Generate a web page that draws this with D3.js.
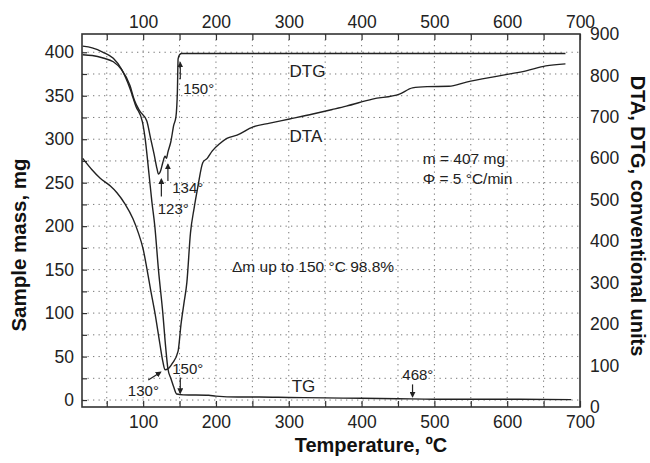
<!DOCTYPE html>
<html>
<head>
<meta charset="utf-8">
<script src="https://cdn.jsdelivr.net/npm/d3@7"></script>
<style>
  body { margin: 0; background: #fff; }
  svg { font-family: "Liberation Sans", Arial, Helvetica, sans-serif; }
</style>
</head>
<body>
<svg id="vis"></svg>
<script>
// TG curve, sample mass (mg) vs temperature
const tgTemp = [17, 30, 45, 59, 70, 82, 90, 99, 103, 108, 112, 116, 121, 127, 131, 134, 138, 142, 146, 155, 190, 200, 230, 260, 300, 350, 400, 450, 500, 600, 688]
const tgMass = [407, 405, 400, 393, 381, 358, 338, 320, 299, 260, 228, 200, 150, 100, 60, 36, 25, 15, 7, 6, 5.5, 4.5, 3.5, 3.5, 3, 2.5, 2, 1.5, 1, 1, 0.5]

// DTA curve, conventional units
const dtaTemp = [17, 30, 41, 55, 64, 75, 86, 93, 100, 105, 110, 116, 123, 127, 130, 134, 140, 148, 152, 156, 160, 165, 170, 175, 182, 188, 195, 205, 215, 229, 251, 274, 301, 333, 360, 379, 415, 452, 470, 490, 520, 544, 589, 626, 653, 680]
const dtaVal = [600, 572, 552, 533, 517, 490, 454, 422, 381, 335, 285, 229, 152, 110, 90, 92, 105, 135, 200, 250, 300, 420, 480, 530, 590, 600, 618, 635, 648, 656, 676, 685, 695, 707, 718, 726, 743, 755, 770, 773, 774, 784, 799, 811, 823, 828]

// DTG curve, conventional units
const dtgTemp = [17, 30, 45, 59, 70, 82, 88, 95, 105, 110, 115, 119, 121, 124, 127, 130, 132, 134, 138, 142, 145, 147, 148, 150, 153, 300, 500, 680]
const dtgVal = [850, 848, 842, 833, 815, 775, 740, 715, 690, 650, 610, 575, 562, 570, 590, 605, 600, 615, 640, 680, 700, 760, 840, 850, 853, 853, 853, 853]

const tempTicks = d3.range(50, 701, 50)
const massTicks = d3.range(0, 401, 25)
const unitTicks = d3.range(0, 901, 100)

const W = 650, H = 463
const margin = {top: 34, right: 70, bottom: 56, left: 82}
const width = W - margin.left - margin.right
const height = H - margin.top - margin.bottom

const svg = d3.select("#vis").attr("width", W).attr("height", H)
const chart = svg.append("g").attr("transform", `translate(${margin.left},${margin.top})`)

const xScale = d3.scaleLinear().domain([16, 700]).range([0, width])
const yLeft = d3.scaleLinear().domain([-8, 421]).range([height, 0])
const yRight = d3.scaleLinear().domain([0, 900]).range([height, 0])

// grid
chart.append("g").selectAll("line").data(tempTicks.filter(t => t < 700)).join("line")
  .attr("x1", d => xScale(d)).attr("x2", d => xScale(d))
  .attr("y1", 0).attr("y2", height)
  .attr("stroke", "#777").attr("stroke-width", 1).attr("stroke-dasharray", "1.3,4.2")
chart.append("g").selectAll("line").data(massTicks).join("line")
  .attr("x1", 0).attr("x2", width)
  .attr("y1", d => yLeft(d)).attr("y2", d => yLeft(d))
  .attr("stroke", "#777").attr("stroke-width", 1).attr("stroke-dasharray", "1.3,4.2")

// axes
const labelFmt = d => d % 100 === 0 ? d : ""
const styleAxis = g => {
  g.select(".domain").remove()
  g.selectAll("text").attr("font-size", 17.5).attr("fill", "#222")
  g.selectAll("line").attr("stroke", "#333").attr("stroke-width", 1.2)
}
chart.append("g")
  .call(d3.axisTop(xScale).tickValues(tempTicks).tickFormat(labelFmt).tickSize(-6).tickPadding(6))
  .call(styleAxis)
chart.append("g").attr("transform", `translate(0,${height})`)
  .call(d3.axisBottom(xScale).tickValues(tempTicks).tickFormat(labelFmt).tickSize(-6).tickPadding(9))
  .call(styleAxis)
chart.append("g")
  .call(d3.axisLeft(yLeft).tickValues(massTicks).tickFormat(d => d % 50 === 0 ? d : "").tickSize(-5).tickPadding(8))
  .call(styleAxis)
chart.append("g").attr("transform", `translate(${width},0)`)
  .call(d3.axisRight(yRight).tickValues(unitTicks).tickSize(0).tickPadding(10))
  .call(styleAxis)

// frame
chart.append("rect").attr("width", width).attr("height", height)
  .attr("fill", "none").attr("stroke", "#333").attr("stroke-width", 1.6)

// curves
const massLine = d3.line().x(d => xScale(d[0])).y(d => yLeft(d[1])).curve(d3.curveMonotoneX)
const unitLine = d3.line().x(d => xScale(d[0])).y(d => yRight(d[1])).curve(d3.curveMonotoneX)
const curve = (path, gen) => chart.append("path").datum(path).attr("d", gen)
  .attr("fill", "none").attr("stroke", "#222").attr("stroke-width", 1.4).attr("stroke-linejoin", "round")
curve(d3.zip(tgTemp, tgMass), massLine)
curve(d3.zip(dtaTemp, dtaVal), unitLine)
curve(d3.zip(dtgTemp, dtgVal), unitLine)

// arrows
svg.append("defs").append("marker").attr("id", "head")
  .attr("viewBox", "0 0 10 10").attr("refX", 8).attr("refY", 5)
  .attr("markerWidth", 5).attr("markerHeight", 5).attr("orient", "auto")
  .append("path").attr("d", "M0,0L10,5L0,10Z").attr("fill", "#222")

const arrows = [
  [151, 369, 151, 388], [134, 252, 134, 271], [125, 234, 125, 254],
  [151, 26, 151, 8], [107, 23, 124, 32], [470, 18, 470, 4]
]
chart.append("g").selectAll("line").data(arrows).join("line")
  .attr("x1", d => xScale(d[0])).attr("y1", d => yLeft(d[1]))
  .attr("x2", d => xScale(d[2])).attr("y2", d => yLeft(d[3]))
  .attr("stroke", "#222").attr("stroke-width", 1.2).attr("marker-end", "url(#head)")

// labels, placed in data units (temperature, mass)
const notes = [
  ["DTG", 301, 371], ["DTA", 301, 297], ["150°", 155, 352],
  ["134°", 140, 238], ["123°", 120, 214],
  ["m = 407 mg", 484, 272], ["Φ = 5 °C/min", 484, 249],
  ["Δm up to 150 °C 98.8%", 222, 147],
  ["150°", 140, 30], ["130°", 79, 5], ["TG", 304, 9], ["468°", 456, 23]
]
chart.append("g").selectAll("text").data(notes).join("text")
  .attr("x", d => xScale(d[1])).attr("y", d => yLeft(d[2]))
  .attr("font-size", d => d[0].length > 4 ? 15.5 : (d[0].includes("°") ? 15 : 17))
  .attr("fill", "#222").text(d => d[0])

// axis titles
svg.append("text").attr("x", 371).attr("y", 452).attr("text-anchor", "middle")
  .attr("font-size", 20).attr("font-weight", "bold").attr("fill", "#111").text("Temperature, ºC")
svg.append("text").attr("transform", "translate(26,245) rotate(-90)").attr("text-anchor", "middle")
  .attr("font-size", 20.5).attr("font-weight", "bold").attr("fill", "#111").text("Sample mass, mg")
svg.append("text").attr("transform", "translate(631,216) rotate(90)").attr("text-anchor", "middle")
  .attr("font-size", 20).attr("font-weight", "bold").attr("fill", "#111").text("DTA, DTG, conventional units")
</script>
</body>
</html>
